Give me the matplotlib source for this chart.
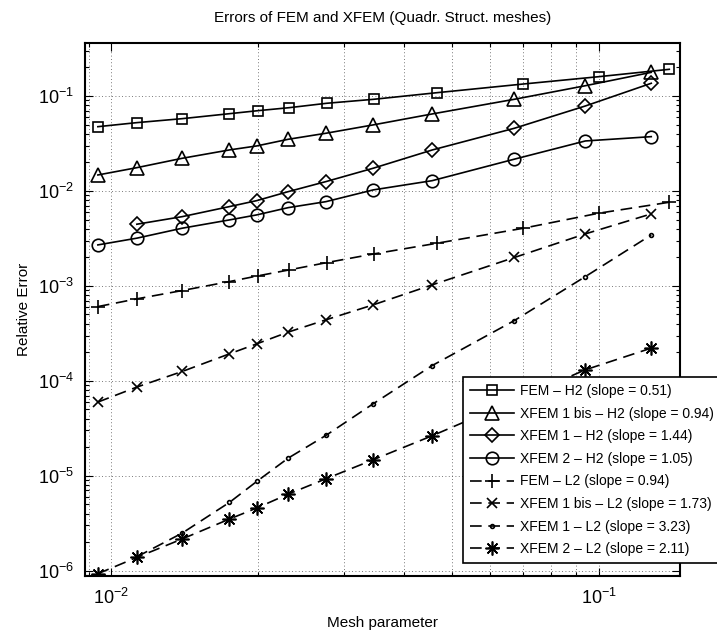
import numpy as np
import matplotlib
matplotlib.use('Agg')
import matplotlib.pyplot as plt
from matplotlib.ticker import LogLocator, FixedLocator, NullFormatter

# fonts (Helvetica-like, like the MATLAB export)
plt.rcParams['font.family'] = ['Liberation Sans', 'DejaVu Sans']
plt.rcParams['mathtext.fontset'] = 'custom'
plt.rcParams['mathtext.rm'] = 'Liberation Sans'
plt.rcParams['mathtext.it'] = 'Liberation Sans:italic'
plt.rcParams['mathtext.bf'] = 'Liberation Sans:bold'

# mesh parameters
h_fem = [0.0094, 0.0113, 0.0140, 0.0175, 0.0200, 0.0232, 0.0277, 0.0346, 0.0466, 0.0700, 0.1000, 0.1397]
h_xfem = [0.0094, 0.0113, 0.0140, 0.0175, 0.0199, 0.0231, 0.0276, 0.0345, 0.0456, 0.0672, 0.0940, 0.1283]

# H2 errors
fem_h2 = [0.0475, 0.0524, 0.0577, 0.0651, 0.0700, 0.0753, 0.0838, 0.0923, 0.1083, 0.1336, 0.1596, 0.1910]
xfem1bis_h2 = [0.01472, 0.01758, 0.02207, 0.02703, 0.02977, 0.0350, 0.0405, 0.0496, 0.0647, 0.0923, 0.1283, 0.1774]
xfem1_h2 = [0.00446, 0.00536, 0.00684, 0.00790, 0.00983, 0.01254, 0.01734, 0.0270, 0.0457, 0.0785, 0.1361]
xfem2_h2 = [0.00270, 0.00318, 0.00405, 0.00495, 0.00559, 0.00667, 0.00771, 0.01025, 0.01283, 0.0216, 0.0336, 0.0373]

# L2 errors
fem_l2 = [6.05e-4, 7.30e-4, 8.93e-4, 1.110e-3, 1.274e-3, 1.473e-3, 1.758e-3, 2.17e-3, 2.81e-3, 4.04e-3, 5.82e-3, 7.60e-3]
xfem1bis_l2 = [5.97e-5, 8.59e-5, 1.254e-4, 1.924e-4, 2.45e-4, 3.26e-4, 4.39e-4, 6.31e-4, 1.025e-3, 1.99e-3, 3.53e-3, 5.73e-3]
xfem1_l2 = [1.40e-6, 2.49e-6, 5.24e-6, 8.7e-6, 1.535e-5, 2.66e-5, 5.73e-5, 1.449e-4, 4.31e-4, 1.253e-3, 3.44e-3]
xfem2_l2 = [9.3e-7, 1.38e-6, 2.16e-6, 3.50e-6, 4.57e-6, 6.41e-6, 9.29e-6, 1.474e-5, 2.64e-5, 6.2e-5, 1.306e-4, 2.21e-4]

labels = ['FEM \u2013 H2 (slope = 0.51)',
          'XFEM 1 bis \u2013 H2 (slope = 0.94)',
          'XFEM 1 \u2013 H2 (slope = 1.44)',
          'XFEM 2 \u2013 H2 (slope = 1.05)',
          'FEM \u2013 L2 (slope = 0.94)',
          'XFEM 1 bis \u2013 L2 (slope = 1.73)',
          'XFEM 1 \u2013 L2 (slope = 3.23)',
          'XFEM 2 \u2013 L2 (slope = 2.11)']

fig = plt.figure(figsize=(7.17, 6.37), dpi=100)
ax = fig.add_axes([0.1192, 0.0950, 0.8285, 0.8375])

lw = 1.2
dash = (7, 4)
solid = dict(color='k', lw=lw, mfc='none', mec='k', mew=lw)
dashed = dict(color='k', lw=lw, dashes=dash, mfc='none', mec='k', mew=lw)
asterisk = (8, 2, 0)

ax.plot(h_fem, fem_h2, marker='s', ms=7, label=labels[0], **solid)
ax.plot(h_xfem, xfem1bis_h2, marker='^', ms=9.5, label=labels[1], **solid)
ax.plot(h_xfem[1:], xfem1_h2, marker='D', ms=7, label=labels[2], **solid)
ax.plot(h_xfem, xfem2_h2, marker='o', ms=9, label=labels[3], **solid)
ax.plot(h_fem, fem_l2, marker='+', ms=10, label=labels[4], **dashed)
ax.plot(h_xfem, xfem1bis_l2, marker='x', ms=7, label=labels[5], **dashed)
ax.plot(h_xfem[1:], xfem1_l2, marker='.', ms=5.5, label=labels[6], **dashed)
ax.plot(h_xfem, xfem2_l2, marker=asterisk, ms=10, label=labels[7], **dashed)

ax.set_xscale('log')
ax.set_yscale('log')
ax.set_xlim(0.008865, 0.1466)
ax.set_ylim(8.69e-7, 0.3615)

ax.xaxis.set_major_locator(FixedLocator([1e-2, 1e-1]))
ax.xaxis.set_minor_locator(LogLocator(base=10, subs=np.arange(2, 10)))
ax.yaxis.set_major_locator(FixedLocator([1e-6, 1e-5, 1e-4, 1e-3, 1e-2, 1e-1]))
ax.yaxis.set_minor_locator(LogLocator(base=10, subs=np.arange(2, 10), numticks=20))
ax.xaxis.set_minor_formatter(NullFormatter())
ax.yaxis.set_minor_formatter(NullFormatter())

grid_style = dict(color='0.3', linestyle=(0, (1, 3)), linewidth=0.6)
ax.grid(True, which='major', axis='both', **grid_style)
ax.grid(True, which='minor', axis='x', **grid_style)
ax.set_axisbelow(True)

ax.tick_params(which='both', direction='in', top=True, right=True, labelsize=13, width=0.8)
ax.tick_params(which='major', length=6, pad=8)
ax.tick_params(which='minor', length=3)
for s in ax.spines.values():
    s.set_linewidth(1.5)

ax.set_title('Errors of FEM and XFEM (Quadr. Struct. meshes)', fontsize=11, pad=15)
ax.set_xlabel('Mesh parameter', fontsize=11, labelpad=6)
ax.set_ylabel('Relative Error', fontsize=11, labelpad=5)

leg = ax.legend(loc='upper left', bbox_to_anchor=(463 / 717, 1 - 377 / 637),
                bbox_transform=fig.transFigure, fontsize=10, frameon=True,
                fancybox=False, framealpha=1, edgecolor='k', handlelength=3.2,
                labelspacing=0.62, borderpad=0.5, handletextpad=0.4, borderaxespad=0)
leg.get_frame().set_linewidth(1.2)

fig.savefig('out.png', dpi=100)
